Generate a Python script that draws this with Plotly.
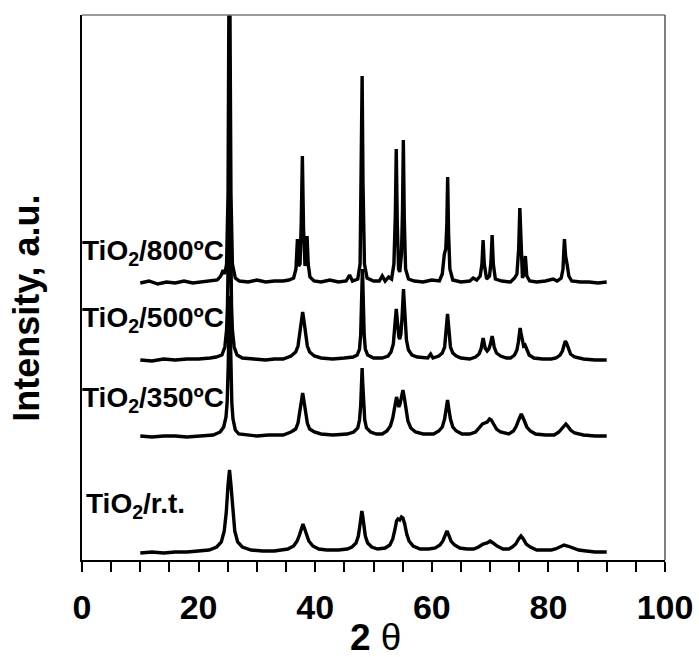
import plotly.graph_objects as go

# ---- data: (2-theta, intensity above own baseline, a.u.) ----
pattern_rt = [
    (10.0, 1), (12.0, 2), (14.0, 1), (16.0, 2), (18.0, 2), (20.0, 3), (21.8, 4), (23.1, 7),
    (23.9, 12), (24.4, 23), (24.75, 42), (25.05, 69), (25.3, 84), (25.55, 69), (25.85, 42),
    (26.2, 23), (26.7, 12), (27.5, 7), (29.0, 4), (31.0, 3), (33.0, 3), (34.5, 4),
    (35.3, 5), (36.3, 8), (36.9, 13), (37.3, 19), (37.6, 25), (37.9, 30), (38.2, 25),
    (38.5, 19), (38.9, 13), (39.6, 8), (40.6, 5), (42.0, 4), (44.0, 4), (45.5, 5),
    (46.3, 7), (47.0, 11), (47.4, 18), (47.7, 30), (47.85, 38), (48.0, 43), (48.15, 38),
    (48.3, 30), (48.6, 18), (49.0, 11), (49.7, 7), (50.7, 5), (52.0, 6),
    (52.8, 9), (53.3, 15), (53.7, 25), (53.95, 33), (54.2, 35), (54.5, 34), (54.8, 37),
    (55.05, 36), (55.35, 30), (55.7, 20), (56.1, 13), (56.8, 8), (58.0, 5), (59.5, 5),
    (60.6, 6), (61.4, 9), (61.9, 13), (62.3, 19), (62.6, 23), (62.9, 19), (63.3, 13),
    (63.9, 9), (64.8, 6), (66.0, 5), (67.2, 5), (68.0, 7), (68.8, 10), (69.5, 11),
    (70.0, 13), (70.5, 11), (71.2, 8), (72.2, 5), (73.2, 5), (73.8, 7), (74.4, 10),
    (74.9, 15), (75.3, 18), (75.7, 15), (76.2, 10), (76.9, 7), (78.0, 4), (79.5, 4),
    (80.5, 4), (81.2, 5), (82.0, 7), (82.7, 9), (83.3, 8), (84.1, 6), (85.2, 4),
    (86.5, 3), (88.0, 2), (90.0, 2),
]

pattern_350 = [
    (10.0, 2), (12.0, 1), (14.0, 2), (16.0, 2), (18.0, 1), (20.0, 2), (22.5, 3), (23.7, 6),
    (24.3, 11), (24.7, 21), (24.9, 36), (25.08, 72), (25.19, 113), (25.3, 142), (25.41, 113),
    (25.52, 72), (25.7, 35), (25.9, 19), (26.3, 8), (26.9, 4), (28.0, 3), (30.0, 2),
    (32.0, 3), (34.5, 3), (35.85, 6), (36.65, 9), (37.05, 15), (37.35, 25), (37.6, 36),
    (37.85, 45), (38.1, 36), (38.35, 25), (38.65, 15), (39.05, 9), (39.85, 6), (41.0, 4),
    (43.0, 3), (45.5, 4), (46.6, 6), (47.3, 10), (47.6, 18), (47.8, 32), (47.94, 54),
    (48.05, 70), (48.16, 54), (48.3, 32), (48.5, 18), (48.8, 10), (49.5, 6), (50.5, 4),
    (51.5, 4), (52.3, 7), (52.9, 12), (53.3, 20), (53.6, 30), (53.8, 37), (53.95, 41),
    (54.15, 36), (54.35, 31), (54.55, 34), (54.8, 42), (55.05, 48), (55.3, 40), (55.6, 27),
    (55.9, 17), (56.4, 10), (57.2, 6), (58.5, 4), (60.3, 4), (61.2, 7), (61.8, 11),
    (62.2, 19), (62.45, 28), (62.7, 38), (62.95, 28), (63.2, 19), (63.6, 11), (64.2, 7),
    (65.2, 4), (66.5, 4), (67.5, 6), (68.2, 10), (68.7, 14), (69.1, 15), (69.5, 16),
    (69.9, 19), (70.2, 18), (70.6, 14), (71.1, 9), (71.8, 6), (72.8, 4), (73.2, 4),
    (74.0, 7), (74.5, 12), (74.9, 18), (75.15, 22), (75.35, 24), (75.6, 21), (75.9, 16),
    (76.3, 11), (76.9, 7), (77.8, 4), (79.5, 3), (81.0, 3), (81.8, 6), (82.3, 9),
    (82.7, 12), (83.0, 14), (83.3, 12), (83.8, 8), (84.5, 5), (86.0, 3), (88.0, 2), (90.0, 2),
]

pattern_500 = [
    (10.0, 2), (12.0, 1), (14.0, 3), (16.0, 2), (18.0, 3), (20.0, 3), (22.0, 4), (23.0, 5),
    (24.0, 7), (24.5, 15), (24.8, 32), (24.95, 56), (25.1, 112), (25.2, 178), (25.3, 222),
    (25.4, 178), (25.5, 112), (25.65, 56), (25.8, 32), (26.1, 15), (26.6, 7), (27.5, 4),
    (29.5, 3), (31.5, 2), (33.0, 3), (34.5, 3), (35.85, 6), (36.65, 10), (37.05, 16),
    (37.35, 27), (37.6, 40), (37.85, 50), (38.1, 40), (38.35, 27), (38.65, 16), (39.05, 10),
    (39.85, 6), (41.0, 4), (43.0, 3), (45.0, 4), (46.5, 5), (47.2, 7), (47.6, 13),
    (47.8, 27), (47.92, 48), (48.01, 75), (48.1, 93), (48.19, 75), (48.28, 48), (48.4, 27),
    (48.6, 13), (49.0, 7), (50.0, 4), (51.5, 4), (52.5, 6), (53.0, 10), (53.4, 18),
    (53.65, 32), (53.8, 45), (53.9, 53), (54.0, 47), (54.15, 35), (54.35, 25), (54.5, 23),
    (54.7, 28), (54.9, 45), (55.05, 62), (55.15, 73), (55.25, 62), (55.4, 42), (55.65, 22),
    (56.0, 12), (56.6, 7), (57.5, 5), (58.5, 4), (59.3, 4), (59.8, 8), (60.2, 4),
    (61.2, 6), (61.8, 9), (62.2, 15), (62.4, 26), (62.55, 38), (62.7, 48), (62.85, 38),
    (63.0, 26), (63.2, 15), (63.6, 9), (64.2, 6), (65.0, 4), (66.5, 3), (67.5, 5),
    (68.1, 8), (68.45, 13), (68.65, 20), (68.8, 24), (68.95, 20), (69.15, 14), (69.5, 11),
    (69.8, 13), (70.05, 18), (70.2, 23), (70.35, 26), (70.5, 22), (70.7, 15), (71.1, 9),
    (71.8, 6), (72.8, 4), (73.5, 4), (74.2, 7), (74.6, 12), (74.85, 20), (75.0, 28),
    (75.15, 34), (75.3, 29), (75.5, 21), (75.75, 16), (76.0, 17), (76.25, 13), (76.7, 7),
    (77.5, 4), (79.0, 3), (80.5, 3), (81.3, 4), (82.0, 7), (82.4, 11), (82.7, 17),
    (82.9, 21), (83.1, 19), (83.4, 13), (83.8, 8), (84.5, 5), (86.0, 3), (88.0, 2), (90.0, 2),
]

pattern_800 = [
    (10.0, 1), (11.5, 3), (13.0, 0), (14.5, 2), (16.0, 1), (17.5, 3), (19.0, 1), (20.5, 2),
    (22.0, 3), (23.2, 4), (23.8, 8), (24.2, 14), (24.5, 10), (24.8, 20), (25.05, 90),
    (25.2, 250), (25.3, 420), (25.4, 250), (25.55, 90), (25.8, 20), (26.3, 6), (27.0, 3),
    (28.5, 2), (30.0, 4), (31.5, 2), (33.0, 3), (34.5, 3), (35.5, 4), (36.3, 6), (36.7, 15),
    (36.95, 45), (37.15, 18), (37.4, 20), (37.6, 60), (37.8, 128), (38.0, 55), (38.25, 18),
    (38.45, 30), (38.6, 48), (38.8, 20), (39.1, 7), (39.8, 3), (41.0, 2), (42.5, 4),
    (44.0, 2), (45.3, 3), (45.9, 9), (46.4, 3), (47.3, 5), (47.7, 20), (47.9, 100),
    (48.05, 208), (48.2, 100), (48.45, 20), (48.9, 6), (50.0, 3), (51.0, 3), (51.5, 8),
    (52.0, 3), (52.6, 7), (53.1, 5), (53.5, 20), (53.75, 70), (53.9, 135), (54.08, 60),
    (54.3, 15), (54.5, 12), (54.8, 30), (54.98, 75), (55.12, 144), (55.28, 65), (55.5, 15),
    (56.0, 5), (57.0, 3), (58.5, 2), (60.0, 4), (61.3, 3), (61.8, 10), (62.15, 30),
    (62.4, 35), (62.58, 60), (62.72, 107), (62.88, 50), (63.1, 15), (63.6, 4), (65.0, 2),
    (66.5, 3), (67.1, 6), (67.7, 4), (68.3, 8), (68.6, 20), (68.8, 44), (69.0, 20),
    (69.4, 5), (69.9, 8), (70.15, 22), (70.35, 49), (70.55, 20), (70.9, 5), (72.0, 3),
    (73.5, 2), (74.2, 6), (74.6, 10), (74.9, 35), (75.1, 76), (75.3, 30), (75.55, 6),
    (75.8, 10), (76.05, 28), (76.3, 8), (76.8, 3), (78.0, 2), (79.5, 3), (80.8, 5),
    (81.5, 3), (82.2, 6), (82.5, 15), (82.75, 45), (82.95, 28), (83.2, 20), (83.5, 8),
    (84.0, 3), (85.5, 2), (87.0, 2), (88.5, 1), (90.0, 2),
]

patterns = [pattern_rt, pattern_350, pattern_500, pattern_800]
series_labels = ["TiO<sub>2</sub>/r.t.", "TiO<sub>2</sub>/350ºC",
                 "TiO<sub>2</sub>/500ºC", "TiO<sub>2</sub>/800ºC"]
offsets = [6, 122, 198, 276]
x_tick_vals = [0, 20, 40, 60, 80, 100]
x_tick_text = ["0", "20", "40", "60", "80", "100"]

FONT = "Liberation Sans, Arial, Helvetica, sans-serif"

fig = go.Figure()
for pat, off, name in zip(patterns, offsets, series_labels):
    fig.add_trace(go.Scatter(
        x=[p[0] for p in pat],
        y=[p[1] + off for p in pat],
        mode="lines",
        line=dict(color="black", width=3.4),
        name=name,
        showlegend=False,
        hoverinfo="skip",
    ))

# series labels (x in paper fraction, y in data units)
label_pos = [(0.003, 55), (-0.003, 161), (-0.003, 241), (-0.004, 308)]
for (lx, ly), name in zip(label_pos, series_labels):
    fig.add_annotation(
        x=lx, y=ly, xref="paper", yref="y", text="<b>" + name + "</b>",
        showarrow=False, xanchor="left", yanchor="middle",
        font=dict(family=FONT, size=28, color="black"),
    )

# axis titles
fig.add_annotation(
    x=50.3, y=-0.143, xref="x", yref="paper",
    text="<b>2</b> θ", showarrow=False, xanchor="center", yanchor="middle",
    font=dict(family=FONT, size=37, color="black"),
)
fig.add_annotation(
    x=-0.095, y=0.462, xref="paper", yref="paper",
    text="<b>Intensity, a.u.</b>", textangle=-90, showarrow=False,
    xanchor="center", yanchor="middle",
    font=dict(family=FONT, size=36, color="black"),
)

# top and right frame lines (grey)
fig.add_shape(type="line", xref="paper", yref="paper", x0=0, x1=1, y0=1, y1=1,
              line=dict(color="#7a7a7a", width=1.5))
fig.add_shape(type="line", xref="paper", yref="paper", x0=1, x1=1, y0=0, y1=1,
              line=dict(color="#555555", width=1.5))

fig.update_layout(
    width=699, height=657,
    margin=dict(l=82, r=34, t=15, b=97, autoexpand=False),
    plot_bgcolor="white", paper_bgcolor="white",
    font=dict(family=FONT, color="black"),
    xaxis=dict(
        range=[0, 100], tickvals=x_tick_vals, ticktext=x_tick_text,
        ticks="outside", ticklen=10, tickwidth=1.5, tickcolor="black",
        minor=dict(dtick=5, ticks="outside", ticklen=10, tickwidth=1.5, tickcolor="black"),
        showline=True, linecolor="black", linewidth=1.5,
        showgrid=False, zeroline=False,
        tickfont=dict(family=FONT, size=34, color="black", weight="bold"),
        ticklabelstandoff=6,
    ),
    yaxis=dict(
        range=[0, 545], showticklabels=False, ticks="",
        showline=True, linecolor="black", linewidth=1.5,
        showgrid=False, zeroline=False,
    ),
)

fig.write_html(
    "out.html",
    config={"displayModeBar": False},
    post_script="document.body.style.margin='0px';document.body.style.overflow='hidden';",
)
